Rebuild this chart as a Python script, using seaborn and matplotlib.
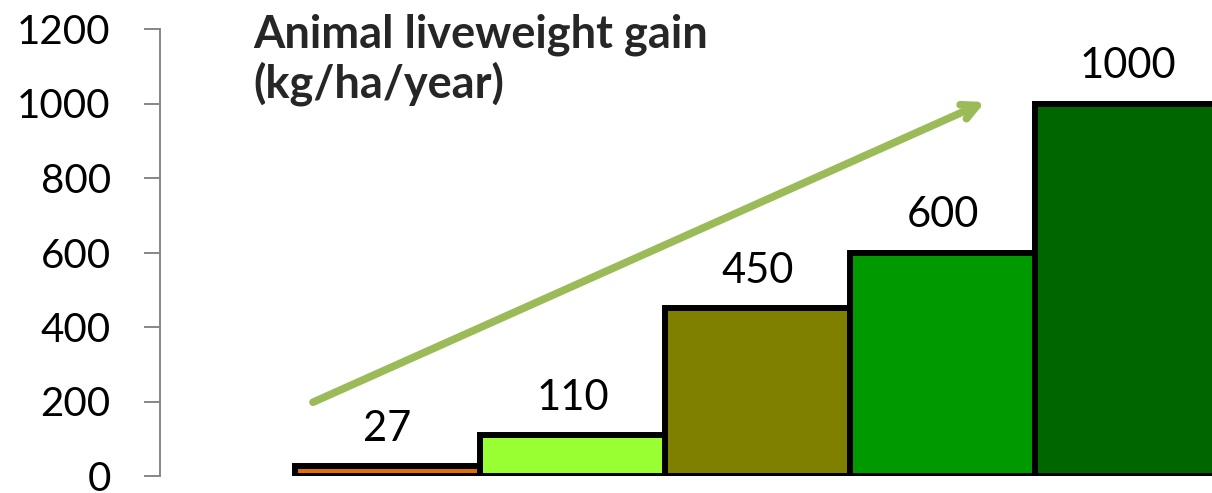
import matplotlib
matplotlib.use("Agg")
import matplotlib.pyplot as plt
import seaborn as sns
import pandas as pd

# Liveweight gain for five successive systems
systems = ["S1", "S2", "S3", "S4", "S5"]
gain = [27, 110, 450, 600, 1000]
bar_colors = ["#E36C09", "#99FF33", "#808000", "#009900", "#006600"]
y_ticks = [0, 200, 400, 600, 800, 1000, 1200]
title_lines = ["Animal liveweight gain", "(kg/ha/year)"]

sns.set_style("white")
plt.rcParams["font.family"] = ["Lato", "DejaVu Sans"]

df = pd.DataFrame({"system": systems, "gain": gain})

W, H = 1212, 493
fig = plt.figure(figsize=(W / 100, H / 100), dpi=100)
ax = fig.add_axes([160 / W, 17 / H, (W - 160) / W, (476 - 29) / H])

sns.barplot(data=df, x="system", y="gain", hue="system", palette=bar_colors,
            width=1.0, edgecolor="black", linewidth=4.3, legend=False,
            ax=ax, saturation=1)

ax.set_xlim(-1.23, 4.457)
ax.set_ylim(0, 1200)
ax.set_yticks(y_ticks)
ax.set_yticklabels([str(t) for t in y_ticks], fontsize=29)
ax.set_xticks([])
ax.set_xlabel("")
ax.set_ylabel("")

for s in ["top", "right", "bottom"]:
    ax.spines[s].set_visible(False)
ax.spines["left"].set_color("#868686")
ax.spines["left"].set_linewidth(1.4)
ax.tick_params(axis="y", length=11.5, width=1.4, color="#868686", pad=24,
               left=True, labelcolor="black")

for i, v in enumerate(gain):
    ax.text(i, v + 68, str(v), ha="center", va="baseline", fontsize=30,
            color="black")

# Rising trend arrow
ax.annotate("", xy=(3.23, 1004), xytext=(-0.403, 198),
            arrowprops=dict(arrowstyle="->,head_length=1.1,head_width=0.55",
                            color="#9BBB59", lw=5.5, shrinkA=0, shrinkB=0,
                            capstyle="round", joinstyle="round"),
            annotation_clip=False)

for k, line in enumerate(title_lines):
    fig.text(253 / W, 1 - (47 + 50 * k) / H, line, ha="left", va="baseline",
             fontsize=32.5, fontweight="bold")

fig.savefig("out.png", dpi=100)
